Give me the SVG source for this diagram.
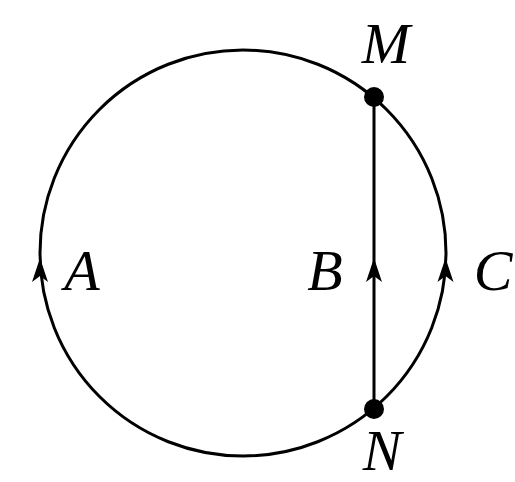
<svg xmlns="http://www.w3.org/2000/svg" width="515" height="482" viewBox="0 0 515 482">
<defs>
<style>
.ln{fill:none;stroke:#000;stroke-width:3}
.ar{fill:#000;stroke:none}
.lb{font-family:'Liberation Serif','Times New Roman',serif;font-style:italic;font-size:58px;fill:#000}
</style>
</defs>
<rect width="515" height="482" fill="#fff"/>
<g id="connectors">
<circle class="ln" cx="243" cy="253" r="203"/>
<line class="ln" x1="374" y1="97" x2="374" y2="409"/>
<path class="ar" d="M40,258 L32,282 L40,276 L48,282 Z"/>
<path class="ar" d="M374,258 L366,282 L374,276 L382,282 Z"/>
<path class="ar" d="M445.5,258 L437.5,282 L445.5,276 L453.5,282 Z"/>
</g>
<g id="M"><circle cx="374" cy="97" r="10"/><text class="lb" x="386" y="63" text-anchor="middle">M</text></g>
<g id="N"><circle cx="374" cy="409" r="10"/><text class="lb" x="382" y="470" text-anchor="middle">N</text></g>
<g id="A"><text class="lb" x="82" y="290" text-anchor="middle">A</text></g>
<g id="B"><text class="lb" x="325" y="290" text-anchor="middle">B</text></g>
<g id="C"><text class="lb" x="493" y="290" text-anchor="middle">C</text></g>
</svg>
